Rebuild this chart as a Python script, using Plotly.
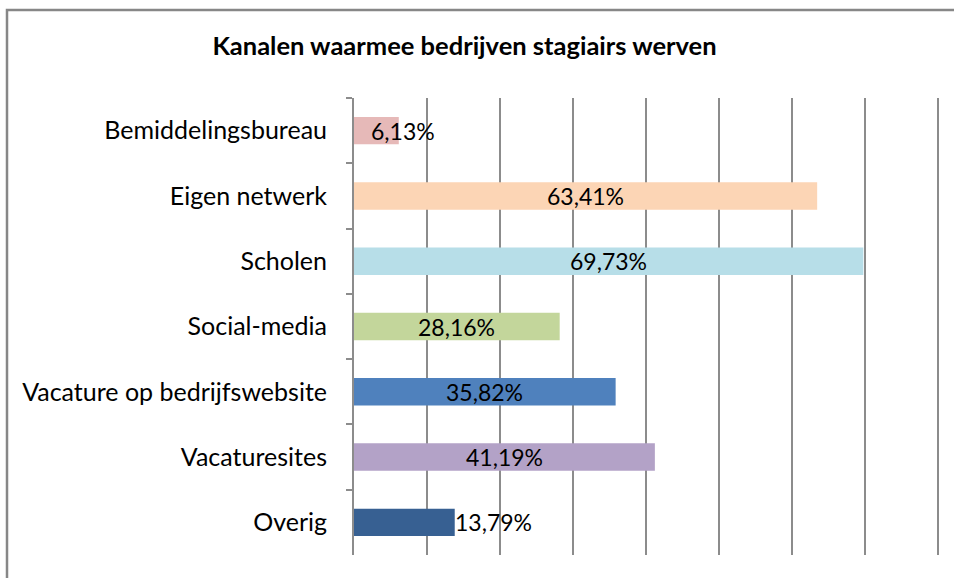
import plotly.graph_objects as go

categories = ["Bemiddelingsbureau", "Eigen netwerk", "Scholen", "Social-media",
              "Vacature op bedrijfswebsite", "Vacaturesites", "Overig"]
values = [6.13, 63.41, 69.73, 28.16, 35.82, 41.19, 13.79]
labels = ["6,13%", "63,41%", "69,73%", "28,16%", "35,82%", "41,19%", "13,79%"]
colors = ["#E6B9B8", "#FCD5B5", "#B7DEE8", "#C3D69B", "#4F81BD", "#B3A2C7", "#376092"]
title = "Kanalen waarmee bedrijven stagiairs werven"

FONT = "Lato, 'Open Sans', sans-serif"

fig = go.Figure()
fig.add_trace(go.Bar(
    y=categories, x=values, orientation="h",
    marker=dict(color=colors, line=dict(width=0)),
    width=0.42,
    showlegend=False, hoverinfo="skip",
))

# data labels
for c, v, t in zip(categories, values, labels):
    if v < 20:
        fig.add_annotation(x=v, y=c, text=t, showarrow=False,
                           xanchor="left" if v > 10 else "center",
                           xshift=-2 if v > 10 else 4,
                           font=dict(family=FONT, size=23, color="#000000"))
    else:
        fig.add_annotation(x=v / 2, y=c, text=t, showarrow=False, xanchor="center",
                           font=dict(family=FONT, size=23, color="#000000"))

L, R, T, B = 354, 12, 98, 23
W, H = 954, 578
pw, ph = W - L - R, H - T - B

# outer chart frame (extends beyond the window on right/bottom)
fig.add_shape(type="rect", xref="paper", yref="paper",
              x0=(7 - L) / pw, x1=1.2, y0=-0.2, y1=1 + (T - 10) / ph,
              line=dict(color="#878787", width=2.5), fillcolor="rgba(0,0,0,0)", layer="below")

fig.update_layout(
    width=W, height=H,
    margin=dict(l=L, r=R, t=T, b=B),
    paper_bgcolor="white", plot_bgcolor="white",
    title=dict(text="<b>" + title + "</b>", x=464.5 / W, xref="container", xanchor="center",
               y=1 - 46 / H, yanchor="middle",
               font=dict(family=FONT, size=25.5, color="#000000")),
    xaxis=dict(range=[0, 80.5], dtick=10, tick0=0, showgrid=True, gridcolor="#8C8C8C", gridwidth=2,
               showticklabels=False, zeroline=False, showline=False, ticks="", fixedrange=True),
    yaxis=dict(autorange="reversed", showline=True, linecolor="#8C8C8C", linewidth=2,
               ticks="outside", ticklen=6, tickcolor="#8C8C8C", tickwidth=2,
               tickson="boundaries", ticklabelstandoff=20, showgrid=False,
               tickfont=dict(family=FONT, size=25, color="#000000")),
    bargap=0.58,
)

fig.write_html("out.html", config={"displayModeBar": False},
               post_script="document.body.style.margin='0';document.body.style.overflow='hidden';")
